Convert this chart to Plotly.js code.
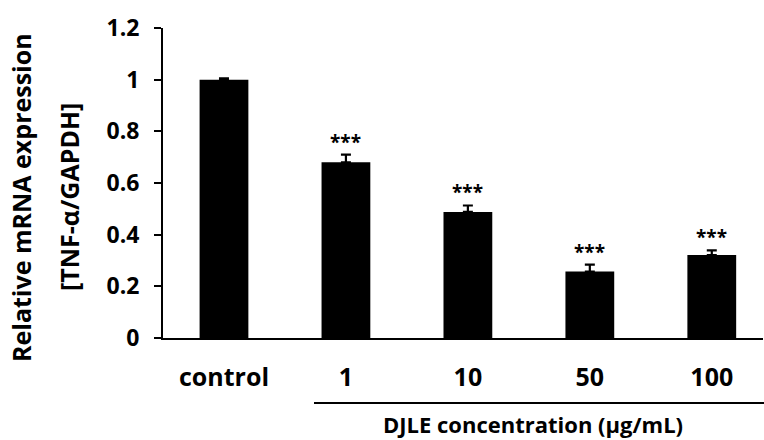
<!DOCTYPE html>
<html><head><meta charset="utf-8">
<script src="https://cdn.plot.ly/plotly-3.0.1.min.js"></script>
<style>html,body{margin:0;padding:0;background:#fff}</style>
</head><body><div id="chart" style="width:764px;height:440px"></div>
<script>
const categories = ["control", "1", "10", "50", "100"];
const values = [1.0, 0.68, 0.488, 0.257, 0.321];
const errors = [0.005, 0.03, 0.025, 0.027, 0.018];
const significance = ["", "***", "***", "***", "***"];
const yTickVals = [0, 0.2, 0.4, 0.6, 0.8, 1, 1.2];
const yTickText = ["0", "0.2", "0.4", "0.6", "0.8", "1", "1.2"];

const FONT = "Open Sans, Noto Sans, sans-serif";
const PLOT_L = 163, PLOT_W = 600, PLOT_T = 28, PLOT_H = 310;
const px = v => (v - PLOT_L) / PLOT_W;
const py = v => (PLOT_T + PLOT_H - v) / PLOT_H;

const trace = {
  type: "bar",
  x: categories.map((c, i) => i),
  y: values,
  marker: {color: "#000000", line: {width: 0}},
  width: 0.4,
  error_y: {type: "data", symmetric: false, array: errors, arrayminus: errors.map(() => 0),
            color: "#000", thickness: 2.2, width: 5},
  hoverinfo: "none"
};

const annotations = [];
significance.forEach((s, i) => {
  if (!s) return;
  annotations.push({
    x: i, y: values[i] + errors[i], xref: "x", yref: "y",
    text: s, showarrow: false, yanchor: "bottom", yshift: -2,
    font: {family: FONT, size: 19, color: "#000", weight: "bold"}
  });
});

annotations.push({
  xref: "paper", yref: "paper", x: px(533), y: py(424), yanchor: "middle",
  text: "DJLE concentration (µg/mL)", showarrow: false,
  font: {family: FONT, size: 22, color: "#000", weight: "bold"}
});
annotations.push({
  xref: "paper", yref: "paper", x: px(21), y: py(198), xanchor: "center", yanchor: "middle",
  text: "Relative mRNA expression", showarrow: false, textangle: -90,
  font: {family: FONT, size: 25, color: "#000", weight: "bold"}
});
annotations.push({
  xref: "paper", yref: "paper", x: px(69), y: py(197), xanchor: "center", yanchor: "middle",
  text: "[TNF-α/GAPDH]", showarrow: false, textangle: -90,
  font: {family: FONT, size: 25, color: "#000", weight: "bold"}
});

const layout = {
  width: 764, height: 440,
  margin: {l: PLOT_L, r: 764 - PLOT_L - PLOT_W, t: PLOT_T, b: 440 - PLOT_T - PLOT_H},
  paper_bgcolor: "#fff", plot_bgcolor: "#fff",
  showlegend: false,
  font: {family: FONT, color: "#000"},
  xaxis: {
    range: [-0.5, 4.42], tickvals: categories.map((c, i) => i), ticktext: categories,
    showline: true, linecolor: "#000", linewidth: 2,
    ticks: "", showgrid: false, zeroline: false,
    tickfont: {family: FONT, size: 25, color: "#000", weight: "bold"},
    ticklabelstandoff: 16
  },
  yaxis: {
    range: [0, 1.2], tickvals: yTickVals, ticktext: yTickText,
    showline: true, linecolor: "#000", linewidth: 2,
    ticks: "outside", ticklen: 7, tickwidth: 2, tickcolor: "#000",
    showgrid: false, zeroline: false,
    tickfont: {family: FONT, size: 23, color: "#000", weight: "bold"},
    ticklabelstandoff: 10
  },
  shapes: [{
    type: "line", xref: "paper", yref: "paper",
    x0: px(314), x1: 1.01, y0: py(403), y1: py(403),
    line: {color: "#000", width: 2}
  }],
  annotations: annotations
};

Plotly.newPlot("chart", [trace], layout, {displayModeBar: false, staticPlot: true});
</script></body></html>
